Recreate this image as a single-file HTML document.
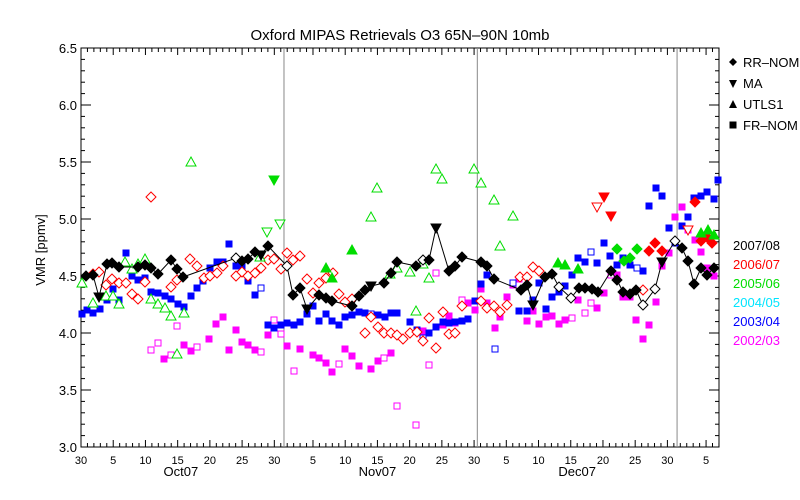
<!DOCTYPE html>
<html><head><meta charset="utf-8"><style>
html,body{margin:0;padding:0;background:#fff;}
svg{display:block;font-family:"Liberation Sans",sans-serif;}
</style></head><body>
<svg id="s" width="800" height="500" xmlns="http://www.w3.org/2000/svg">
<rect width="800" height="500" fill="#fff"/>
<text x="400" y="40" font-size="15" text-anchor="middle">Oxford MIPAS Retrievals O3 65N–90N 10mb</text>
<text transform="translate(45,250) rotate(-90)" font-size="13" text-anchor="middle">VMR [ppmv]</text>
<g font-size="13">
<text x="743" y="67">RR–NOM</text><text x="743" y="88">MA</text><text x="743" y="109">UTLS1</text><text x="743" y="130">FR–NOM</text>
<text x="733" y="250" fill="#000">2007/08</text><text x="733" y="269" fill="#ff0000">2006/07</text><text x="733" y="288" fill="#00dd00">2005/06</text><text x="733" y="307" fill="#00e5ff">2004/05</text><text x="733" y="326" fill="#0000ff">2003/04</text><text x="733" y="345" fill="#ff00ff">2002/03</text>
</g>
<g id="g"></g>
</svg>
<script>
var g=document.getElementById('g'),h='';
var L=81,R=719,T=48,B=447;
function X(t){return 81+t*6.444;}
function Y(v){return B-(v-3)*114;}
h+='<rect x="'+L+'" y="'+T+'" width="'+(R-L)+'" height="'+(B-T)+'" fill="none" stroke="#000"/>';
[31.5,61.5,92.5].forEach(function(t){h+='<line x1="'+X(t)+'" y1="'+T+'" x2="'+X(t)+'" y2="'+B+'" stroke="#888"/>';});
for(var i=0;i<=35;i++){var v=3+i*0.1,y=Y(v),len=(i%5==0)?10:4;
h+='<line x1="'+L+'" y1="'+y+'" x2="'+(L+len)+'" y2="'+y+'" stroke="#000"/><line x1="'+R+'" y1="'+y+'" x2="'+(R-len)+'" y2="'+y+'" stroke="#000"/>';
if(i%5==0)h+='<text x="'+(L-4)+'" y="'+(y+5)+'" font-size="13" text-anchor="end">'+v.toFixed(1)+'</text>';}
for(var t=0;t<=99;t++){var d;if(t==0)d=30;else if(t<=31)d=t;else if(t<=61)d=t-31;else if(t<=92)d=t-61;else d=t-92;
var maj=(d%5==0),len=maj?7:4,x=X(t);
h+='<line x1="'+x+'" y1="'+B+'" x2="'+x+'" y2="'+(B-len)+'" stroke="#000"/><line x1="'+x+'" y1="'+T+'" x2="'+x+'" y2="'+(T+len)+'" stroke="#000"/>';
if(maj)h+='<text x="'+x+'" y="'+(B+17)+'" font-size="11" text-anchor="middle">'+d+'</text>';}
h+='<text x="'+X(15.5)+'" y="'+(B+29)+'" font-size="13" text-anchor="middle">Oct07</text>';
h+='<text x="'+X(46)+'" y="'+(B+29)+'" font-size="13" text-anchor="middle">Nov07</text>';
h+='<text x="'+X(77)+'" y="'+(B+29)+'" font-size="13" text-anchor="middle">Dec07</text>';
function mk(x,y,t,c){var f=(t==t.toUpperCase()),fill=f?c:'#fff',T2=t.toUpperCase(),s='';
var st=' fill="'+fill+'" stroke="'+c+'" stroke-width="1"';
if(T2=='D')s='<polygon points="'+x+','+(y-5)+' '+(x+5)+','+y+' '+x+','+(y+5)+' '+(x-5)+','+y+'"'+st+'/>';
else if(T2=='S')s='<rect x="'+(x-3)+'" y="'+(y-3)+'" width="6" height="6"'+st+'/>';
else if(T2=='T')s='<polygon points="'+x+','+(y-5)+' '+(x+5)+','+(y+4)+' '+(x-5)+','+(y+4)+'"'+st+'/>';
else s='<polygon points="'+x+','+(y+5)+' '+(x+5)+','+(y-4)+' '+(x-5)+','+(y-4)+'"'+st+'/>';
return s;}
function ser(arr,c){arr.forEach(function(p){h+=mk(p[0],p[1],p[2]||'S',c);});}
ser([[151,350,'s'],[158,343,'s'],[164,359],[171,355,'s'],[177,326,'s'],[184,345],[191,351],[197,347,'s'],[209,339],[216,324],[223,317],[229,350],[236,330],[242,342],[248,345],[255,350],[261,352,'s'],[268,335],[274,320,'s'],[281,334,'s'],[287,346],[294,371,'s'],[300,349],[313,355],[319,358],[326,363],[332,372],[339,364,'s'],[345,349],[352,356],[359,366],[371,369],[378,361],[384,358,'s'],[391,353],[397,406,'s'],[416,425,'s'],[423,331],[429,365,'s'],[436,273,'s'],[443,325],[449,316],[455,323],[462,300,'s'],[468,303],[475,310],[481,289],[487,303],[495,328],[500,317],[507,297],[513,285],[519,279],[527,321],[533,311],[539,324],[546,317],[552,316],[559,324],[565,320],[572,318,'s'],[578,300],[585,313,'s'],[591,303,'s'],[597,308],[604,293],[611,275,'s'],[617,275],[623,297],[630,297],[636,320],[643,339],[649,325],[656,302],[662,266],[669,253],[675,217],[682,207],[688,230],[695,240],[701,252],[707,268],[714,276]],'#ff00ff');
ser([[82,314],[87,310],[93,313],[100,309],[107,300],[113,289],[119,300],[126,253],[132,276],[138,280],[145,278],[151,292],[158,293],[165,296],[171,299],[178,304],[184,307],[191,296],[197,288],[203,281],[210,268],[217,262],[223,262],[229,244],[236,266],[242,266],[248,281],[255,295],[261,288,'s'],[268,325],[274,328],[281,325],[287,323],[294,325],[300,322],[307,314],[313,306],[319,321],[326,314],[332,321],[339,325],[345,317],[352,315],[359,312],[365,313],[371,314,'s'],[378,315],[385,317],[391,313],[397,313],[410,322],[417,330],[423,338,'s'],[429,333],[436,327],[443,322],[449,323],[455,322],[462,321],[468,319],[475,301],[481,284],[487,275],[495,349,'s'],[513,283,'s'],[519,311],[527,311],[533,300],[539,283],[546,309],[552,297],[559,292],[565,286],[572,275],[578,258],[585,262],[591,252,'s'],[597,263],[604,243],[610,256],[617,265],[623,258],[630,265],[637,268,'s'],[643,271],[649,206],[656,188],[662,196],[669,228],[675,243],[682,226],[688,217],[694,198],[701,196],[707,192],[714,199],[718,180]],'#0000ff');
ser([[93,274,'d'],[99,272,'d'],[106,285,'d'],[112,279,'d'],[119,283,'d'],[126,283,'d'],[132,294,'d'],[138,299,'d'],[145,282,'d'],[151,197,'d'],[171,287,'d'],[177,280,'d'],[190,259,'d'],[197,266,'d'],[204,278,'d'],[210,276,'d'],[217,273,'d'],[223,266,'d'],[236,276,'d'],[242,272,'d'],[248,276,'d'],[255,273,'d'],[261,268,'d'],[268,260,'d'],[274,259,'d'],[281,269,'d'],[287,253,'d'],[293,260,'d'],[300,256,'d'],[307,279,'d'],[313,293,'d'],[319,283,'d'],[326,278,'d'],[333,273,'d'],[339,294,'d'],[345,302,'d'],[352,299,'d'],[365,333,'d'],[371,317,'d'],[378,327,'d'],[384,333,'d'],[391,333,'d'],[397,335,'d'],[403,339,'d'],[410,333,'d'],[417,332,'d'],[423,341,'d'],[429,318,'d'],[436,348,'d'],[443,312,'d'],[449,334,'d'],[455,333,'d'],[462,306,'d'],[481,301,'d'],[487,308,'d'],[494,306,'d'],[500,312,'d'],[507,305,'d'],[520,277,'d'],[527,277,'d'],[533,267,'d'],[539,271,'d'],[643,290,'d'],[655,243,'D'],[649,251,'D'],[662,251,'D'],[695,202,'D'],[701,241,'D'],[707,237,'D'],[712,243,'D'],[604,197,'V'],[611,216,'V'],[597,207,'v'],[688,230,'v']],'#ff0000');
ser([[82,283,'t'],[93,303,'t'],[106,296,'t'],[113,296,'t'],[119,304,'t'],[125,262,'t'],[132,269,'t'],[138,264,'t'],[145,259,'t'],[151,299,'t'],[158,304,'t'],[165,308,'t'],[171,316,'t'],[177,354,'t'],[184,313,'t'],[191,162,'t'],[260,257,'t'],[267,232,'v'],[280,224,'v'],[274,180,'V'],[326,268,'T'],[332,278,'T'],[352,250,'T'],[371,217,'t'],[377,188,'t'],[390,274,'t'],[397,268,'t'],[410,272,'t'],[416,311,'t'],[423,264,'t'],[429,278,'t'],[436,169,'t'],[442,179,'t'],[474,169,'t'],[481,183,'t'],[494,200,'t'],[500,246,'t'],[513,216,'t'],[558,263,'T'],[565,265,'T'],[578,269,'T'],[617,249,'D'],[624,261,'D'],[630,258,'D'],[637,249,'D'],[701,233,'T'],[708,230,'T'],[714,235,'T']],'#00dd00');
var bl=[[86,276],[93,275],[99,297,'V'],[107,264],[112,263],[119,267],[138,267],[145,265],[151,268],[158,274],[171,260],[177,269],[183,277],[236,258,'d'],[242,261],[248,259],[255,252],[261,255,'V'],[268,246],[287,266,'d'],[293,295],[300,288],[307,309,'V'],[319,295],[326,298],[332,301],[352,306],[359,296],[365,290],[371,286,'V'],[384,283],[391,273],[397,262],[416,266],[423,260,'d'],[429,260],[436,228,'V'],[449,271],[455,266],[462,257],[481,262],[487,266],[494,279],[521,290],[527,285],[533,305,'V'],[545,277],[552,274],[559,287,'d'],[571,298,'d'],[579,288],[585,288],[592,289],[598,292],[611,271],[617,280],[623,292],[630,294],[636,290],[643,305,'d'],[655,289,'d'],[662,262,'V'],[675,241,'d'],[682,248],[688,261],[694,284],[701,268],[707,275],[714,268]];
h+='<polyline fill="none" stroke="#000" stroke-width="1" points="'+bl.map(function(p){return p[0]+','+p[1];}).join(' ')+'"/>';
bl.forEach(function(p){h+=mk(p[0],p[1],p[2]||'D','#000');});
h+='<polygon points="733,58 737,62 733,66 729,62" fill="#000"/>';
h+='<polygon points="733,88 737,80 729,80" fill="#000"/><polygon points="733,100 737,108 729,108" fill="#000"/><rect x="729.5" y="121.5" width="7" height="7" fill="#000"/>';
g.innerHTML=h;
</script>
</body></html>
